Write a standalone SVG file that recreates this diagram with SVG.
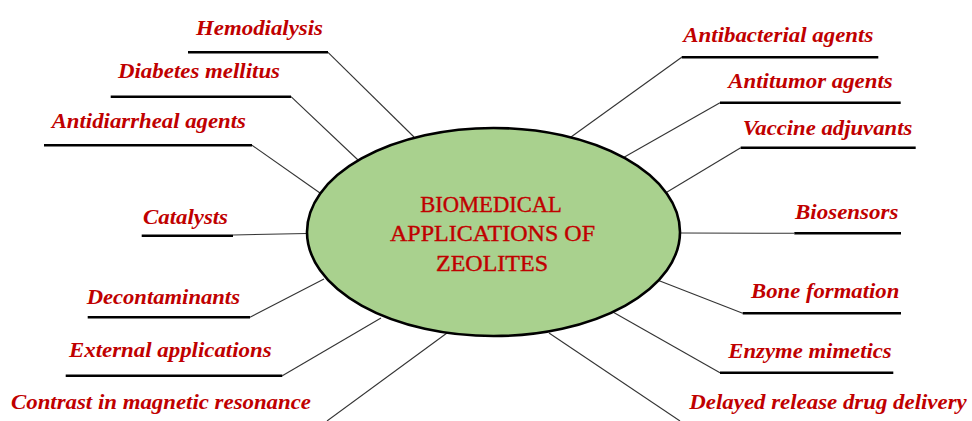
<svg xmlns="http://www.w3.org/2000/svg" width="972" height="421" viewBox="0 0 972 421">
<style>
.lbl{font-family:"Liberation Serif","Times New Roman",serif;font-weight:bold;font-style:italic;font-size:22px;fill:#C00000;text-anchor:middle}
.ul{stroke:#000;stroke-width:2.6;fill:none}
.cn{stroke:#333;stroke-width:1.1;fill:none}
.ttl{font-family:"Liberation Serif","Times New Roman",serif;font-size:24px;fill:#C00000;stroke:#C00000;stroke-width:0.4;text-anchor:middle}
</style>
<rect width="972" height="421" fill="#fff"/>
<g id="connectors">
<line class="cn" x1="328" y1="52.3" x2="414" y2="137"/>
<line class="cn" x1="291" y1="96.7" x2="358" y2="160"/>
<line class="cn" x1="252" y1="145.3" x2="320" y2="193"/>
<line class="cn" x1="233" y1="235" x2="307" y2="233.5"/>
<line class="cn" x1="250" y1="317.3" x2="324" y2="279"/>
<line class="cn" x1="282.3" y1="375.7" x2="381" y2="318"/>
<line class="cn" x1="327" y1="421" x2="447" y2="333"/>
<line class="cn" x1="681.7" y1="57.3" x2="571" y2="137"/>
<line class="cn" x1="720" y1="102.7" x2="624" y2="157.3"/>
<line class="cn" x1="740.7" y1="147.7" x2="665" y2="193.3"/>
<line class="cn" x1="794" y1="233.3" x2="680" y2="233"/>
<line class="cn" x1="742.7" y1="313.3" x2="657.3" y2="280"/>
<line class="cn" x1="720" y1="372.7" x2="613.3" y2="312.3"/>
<line class="cn" x1="680" y1="421" x2="549" y2="333"/>
</g>
<g id="center">
<ellipse cx="493.5" cy="232" rx="186.5" ry="104" fill="#A9D18E" stroke="#000" stroke-width="2.6"/>
<text class="ttl" x="491" y="212" textLength="141.7" lengthAdjust="spacingAndGlyphs">BIOMEDICAL</text>
<text class="ttl" x="492.5" y="241" textLength="205" lengthAdjust="spacingAndGlyphs">APPLICATIONS OF</text>
<text class="ttl" x="492" y="271" textLength="112" lengthAdjust="spacingAndGlyphs">ZEOLITES</text>
</g>
<g id="hemodialysis"><line class="ul" x1="188" y1="52.3" x2="328" y2="52.3"/><text class="lbl" x="259.5" y="34.5" textLength="127" lengthAdjust="spacingAndGlyphs">Hemodialysis</text></g>
<g id="diabetes"><line class="ul" x1="110.7" y1="96.7" x2="291" y2="96.7"/><text class="lbl" x="199" y="78" textLength="162" lengthAdjust="spacingAndGlyphs">Diabetes mellitus</text></g>
<g id="antidiarrheal"><line class="ul" x1="44" y1="145.3" x2="252" y2="145.3"/><text class="lbl" x="148.8" y="127.7" textLength="194.3" lengthAdjust="spacingAndGlyphs">Antidiarrheal agents</text></g>
<g id="catalysts"><line class="ul" x1="141.7" y1="235.7" x2="233" y2="235.7"/><text class="lbl" x="185.5" y="224" textLength="85" lengthAdjust="spacingAndGlyphs">Catalysts</text></g>
<g id="decontaminants"><line class="ul" x1="87.7" y1="317.3" x2="250" y2="317.3"/><text class="lbl" x="163.3" y="304" textLength="153.3" lengthAdjust="spacingAndGlyphs">Decontaminants</text></g>
<g id="external"><line class="ul" x1="65.7" y1="375.7" x2="282.3" y2="375.7"/><text class="lbl" x="170.3" y="356.7" textLength="202.7" lengthAdjust="spacingAndGlyphs">External applications</text></g>
<g id="contrast"><text class="lbl" x="161" y="409" textLength="300" lengthAdjust="spacingAndGlyphs">Contrast in magnetic resonance</text></g>
<g id="antibacterial"><line class="ul" x1="681.7" y1="57.3" x2="878.3" y2="57.3"/><text class="lbl" x="778.3" y="41.7" textLength="190" lengthAdjust="spacingAndGlyphs">Antibacterial agents</text></g>
<g id="antitumor"><line class="ul" x1="720" y1="102.7" x2="900.7" y2="102.7"/><text class="lbl" x="810.5" y="88.3" textLength="164.4" lengthAdjust="spacingAndGlyphs">Antitumor agents</text></g>
<g id="vaccine"><line class="ul" x1="740.7" y1="147.7" x2="915.7" y2="147.7"/><text class="lbl" x="827.5" y="135" textLength="169.6" lengthAdjust="spacingAndGlyphs">Vaccine adjuvants</text></g>
<g id="biosensors"><line class="ul" x1="794.3" y1="233.3" x2="901" y2="233.3"/><text class="lbl" x="846.7" y="219.3" textLength="103.3" lengthAdjust="spacingAndGlyphs">Biosensors</text></g>
<g id="bone"><line class="ul" x1="742.7" y1="313.3" x2="901" y2="313.3"/><text class="lbl" x="825.2" y="298.3" textLength="148.3" lengthAdjust="spacingAndGlyphs">Bone formation</text></g>
<g id="enzyme"><line class="ul" x1="720" y1="372.7" x2="893.3" y2="372.7"/><text class="lbl" x="810" y="357.7" textLength="163.4" lengthAdjust="spacingAndGlyphs">Enzyme mimetics</text></g>
<g id="delayed"><text class="lbl" x="828" y="409.3" textLength="277.4" lengthAdjust="spacingAndGlyphs">Delayed release drug delivery</text></g>
</svg>
